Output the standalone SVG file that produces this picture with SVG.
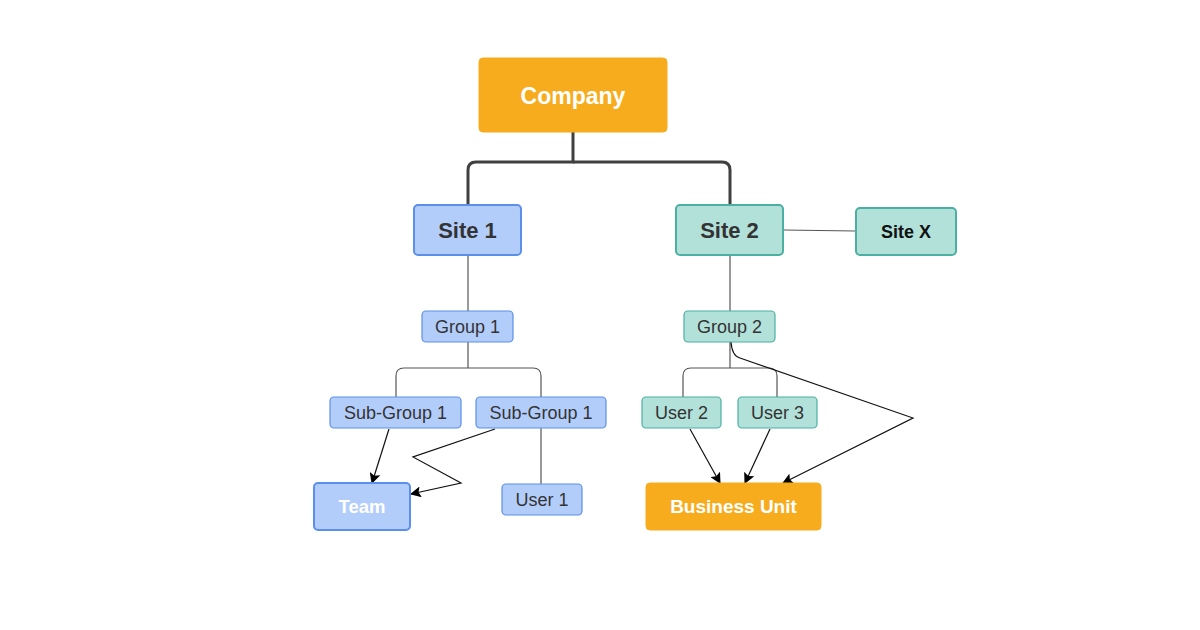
<svg xmlns="http://www.w3.org/2000/svg" width="1200" height="630" viewBox="0 0 1200 630">
<style>
text{font-family:"Liberation Sans",Arial,sans-serif;text-anchor:middle;dominant-baseline:central}
.blue{fill:#b3cdfb;stroke:#5c8fea;stroke-width:1.2}
.blueB{fill:#b3cdfb;stroke:#5c8fea;stroke-width:2}
.teal{fill:#b2e1da;stroke:#4bb0a2;stroke-width:1.2}
.tealB{fill:#b2e1da;stroke:#4bb0a2;stroke-width:2}
.orange{fill:#f7ac1e;stroke:#f7ac1e}
.lbl{font-size:18px;fill:#333}
.big{font-size:22px;font-weight:bold;fill:#333}
.wh{font-size:19px;font-weight:bold;fill:#fff}
.ln{fill:none;stroke:#555;stroke-width:1.2}
.ar{fill:none;stroke:#111;stroke-width:1.2;marker-end:url(#arr)}
</style>
<defs>
<marker id="arr" viewBox="0 0 10 10" refX="9" refY="5" markerWidth="11" markerHeight="11" markerUnits="userSpaceOnUse" orient="auto">
<path d="M0,0 L10,5 L0,10 L2,5 z" fill="#000"/>
</marker>
</defs>
<g id="connectors">
<path d="M573,132 V162 H476 Q468,162 468,170 V205" fill="none" stroke="#404040" stroke-width="3"/>
<path d="M573,162 H722 Q730,162 730,170 V205" fill="none" stroke="#404040" stroke-width="3"/>
<path class="ln" d="M783,230 L856,231" stroke-width="1.5"/>
<path class="ln" d="M468,255 V311"/>
<path class="ln" d="M730,255 V311"/>
<path class="ln" d="M468,342 V368 M404,368 H533 Q541,368 541,376 V397 M404,368 Q396,368 396,376 V397"/>
<path class="ln" d="M541,428 V484"/>
<path class="ln" d="M730,342 V368 M691,368 H769 Q777,368 777,376 V397 M691,368 Q683,368 683,376 V397"/>
<path class="ar" d="M389,429 L372,483"/>
<path class="ar" d="M495,429 L413,457 L461,483 L411,494"/>
<path class="ar" d="M690,429 L720,483"/>
<path class="ar" d="M770,429 L745,483"/>
<path class="ar" d="M731,342 Q732,356 740,358 L913,418 L783,483"/>
</g>
<g id="company"><rect class="orange" x="479" y="58" width="188" height="74" rx="4"/><text x="573" y="96" class="wh" style="font-size:23px">Company</text></g>
<g id="site1"><rect class="blueB" x="414" y="205" width="107" height="50" rx="4"/><text x="467.5" y="230" class="big">Site 1</text></g>
<g id="site2"><rect class="tealB" x="676" y="205" width="107" height="50" rx="4"/><text x="729.5" y="230" class="big">Site 2</text></g>
<g id="siteX"><rect class="tealB" x="856" y="208" width="100" height="47" rx="4"/><text x="906" y="231.5" style="font-size:18px;font-weight:bold;fill:#111">Site X</text></g>
<g id="group1"><rect class="blue" x="422" y="311" width="91" height="31" rx="4"/><text x="467.5" y="326.5" class="lbl">Group 1</text></g>
<g id="group2"><rect class="teal" x="684" y="311" width="91" height="31" rx="4"/><text x="729.5" y="326.5" class="lbl">Group 2</text></g>
<g id="subgroup1a"><rect class="blue" x="330" y="397" width="131" height="31" rx="4"/><text x="395.5" y="412.5" class="lbl">Sub-Group 1</text></g>
<g id="subgroup1b"><rect class="blue" x="476" y="397" width="130" height="31" rx="4"/><text x="541" y="412.5" class="lbl">Sub-Group 1</text></g>
<g id="user2"><rect class="teal" x="642" y="397" width="79" height="31" rx="4"/><text x="681.5" y="412.5" class="lbl">User 2</text></g>
<g id="user3"><rect class="teal" x="738" y="397" width="79" height="31" rx="4"/><text x="777.5" y="412.5" class="lbl">User 3</text></g>
<g id="team"><rect class="blueB" x="314" y="483" width="96" height="47" rx="4"/><text x="362" y="506.5" class="wh" style="font-size:18.5px">Team</text></g>
<g id="user1"><rect class="blue" x="502" y="484" width="80" height="31" rx="4"/><text x="542" y="499.5" class="lbl">User 1</text></g>
<g id="businessUnit"><rect class="orange" x="646" y="483" width="175" height="47" rx="4"/><text x="733.5" y="506.5" class="wh">Business Unit</text></g>
</svg>
